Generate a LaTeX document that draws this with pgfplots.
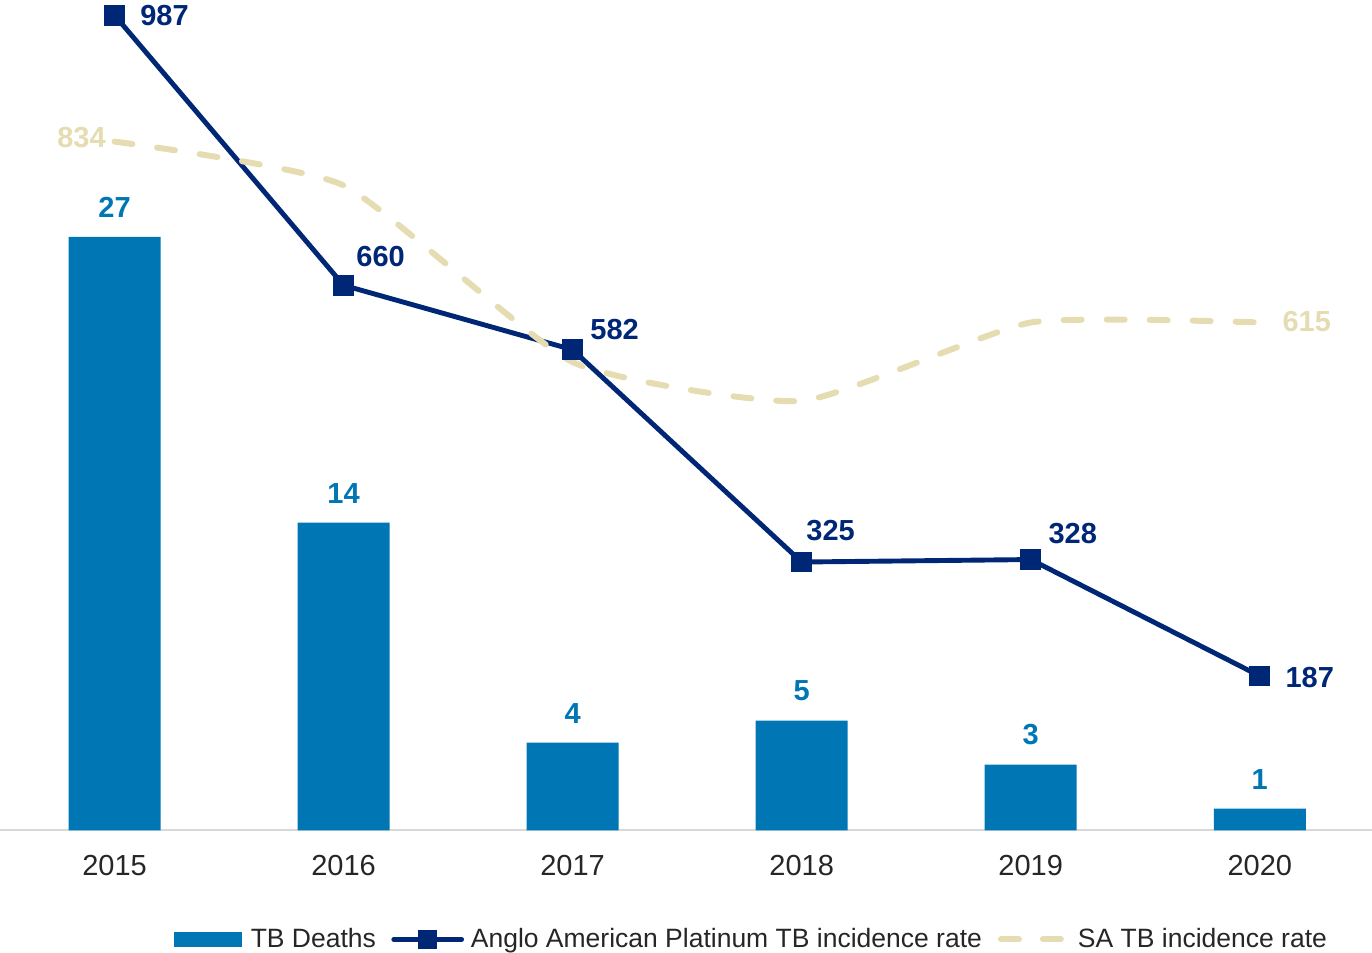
\documentclass[border=0pt]{standalone}
\usepackage{pgfplots}
\pgfplotsset{compat=1.18}
\usepackage{fontspec}
\setmainfont{Liberation Sans}
\definecolor{tbblue}{HTML}{0076B4}
\definecolor{navy}{HTML}{002776}
\definecolor{beige}{HTML}{E6DCB1}
\definecolor{basegray}{HTML}{D9D9D9}
\definecolor{txt}{HTML}{262626}

\pgfplotstableread{
x y dx dy
0 987 25 0
1 660 18.5 14.5
2 582 21 10
3 325 14.5 15.5
4 328 21 13
5 187 25 -0.5
}\anglolabels
\pgfplotstableread{
x y dx dy
0 834 -16.5 2
5 615 23.5 0.5
}\salabels

\begin{document}
\begin{tikzpicture}
\path[use as bounding box] (0,0) rectangle (686pt,476.5pt);
\begin{axis}[
  at={(0pt,61.25pt)}, anchor=south west,
  scale only axis, width=686pt, height=415.5pt,
  xmin=-0.5, xmax=5.49, ymin=0, ymax=37.8,
  enlargelimits=false,
  /pgf/number format/assume math mode=true,
  ybar, bar width=46pt,
  axis x line*=bottom, axis y line=none,
  x axis line style={draw=basegray, line width=1pt, -},
  xtick={0,...,5}, xticklabels={2015,2016,2017,2018,2019,2020},
  major tick length=0pt, xtick style={draw=none},
  xticklabel style={font=\fontsize{14.5pt}{17pt}\selectfont, text=txt, inner sep=0pt, anchor=north, yshift=-12pt},
  ytick=\empty,
  clip=false,
]
\addplot[fill=tbblue, draw=none,
  nodes near coords, point meta=y,
  every node near coord/.style={anchor=south, inner sep=0pt, yshift=9.5pt, font=\fontsize{14.5pt}{17pt}\selectfont\bfseries, text=tbblue}]
  coordinates {(0,27) (1,14) (2,4) (3,5) (4,3) (5,1)};
\end{axis}
\begin{axis}[
  at={(0pt,61.25pt)}, anchor=south west,
  scale only axis, width=686pt, height=415.5pt,
  xmin=-0.5, xmax=5.49, ymin=0, ymax=1006,
  enlargelimits=false,
  /pgf/number format/assume math mode=true,
  hide axis, clip=false,
  legend columns=3,
  legend style={at={(0.1268,-0.131)}, anchor=west, draw=none, fill=none,
    inner sep=0pt, outer sep=0pt, column sep=0pt,
    font=\fontsize{13.25pt}{16pt}\selectfont, text=txt,
    nodes={inner sep=0pt},
    /tikz/every even column/.append style={column sep=6.5pt}},
]
\addlegendimage{legend image code/.code={\fill[tbblue] (0pt,-3.5pt) rectangle (33.5pt,3.5pt); \path (38pt,0pt);}}
\addlegendentry{TB Deaths}
\addplot[navy, line width=2.45pt, mark=square*, mark size=4pt, mark options={solid},
  legend image code/.code={\draw[navy, line width=2.45pt, line cap=round] (1.2pt,0pt) -- (35.1pt,0pt); \fill[navy] (14.3pt,-3.6pt) rectangle (21.7pt,3.6pt); \path (0pt,0pt) (38.5pt,0pt);}]
  coordinates {(0,987) (1,660) (2,582) (3,325) (4,328) (5,187)};
\addlegendentry{Anglo American Platinum TB incidence rate}
\addplot[beige, line width=3pt, line cap=round, dash pattern=on 9pt off 12.5pt, smooth, tension=0.3,
  legend image code/.code={\draw[beige, line width=3pt, line cap=round] (1.5pt,0pt) -- (10.5pt,0pt) (22.5pt,0pt) -- (31.4pt,0pt); \path (0pt,0pt) (38.5pt,0pt);}]
  coordinates {(0,834) (1,781) (2,567) (3,520) (4,615) (5,615)};
\addlegendentry{SA TB incidence rate}
\addplot[forget plot, draw=none, mark=none,
  nodes near coords, point meta=y,
  visualization depends on={\thisrow{dx} \as \dx},
  visualization depends on={\thisrow{dy} \as \dy},
  every node near coord/.style={anchor=center, inner sep=0pt, xshift=\dx pt, yshift=\dy pt, font=\fontsize{14.5pt}{17pt}\selectfont\bfseries, text=navy}]
  table[x=x, y=y] {\anglolabels};
\addplot[forget plot, draw=none, mark=none,
  nodes near coords, point meta=y,
  visualization depends on={\thisrow{dx} \as \dx},
  visualization depends on={\thisrow{dy} \as \dy},
  every node near coord/.style={anchor=center, inner sep=0pt, xshift=\dx pt, yshift=\dy pt, font=\fontsize{14.5pt}{17pt}\selectfont\bfseries, text=beige}]
  table[x=x, y=y] {\salabels};
\end{axis}
\end{tikzpicture}
\end{document}
